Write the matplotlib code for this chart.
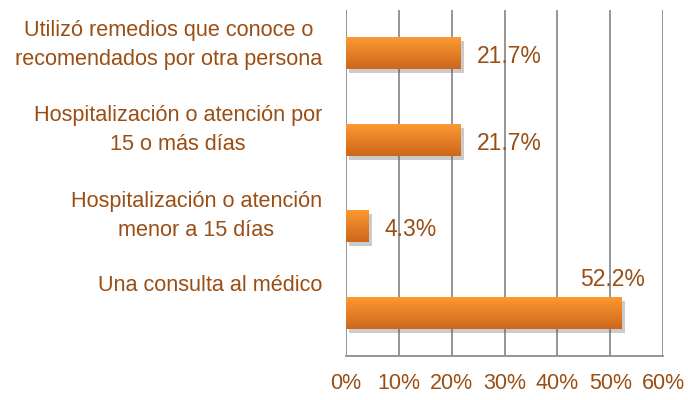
import matplotlib.pyplot as plt
import matplotlib.patheffects as pe
import matplotlib.transforms as mtransforms
import numpy as np

plt.rcParams['font.family'] = ['Liberation Sans', 'DejaVu Sans']

categories = [
    "Utilizó remedios que conoce o\nrecomendados por otra persona",
    "Hospitalización o atención por\n15 o más días",
    "Hospitalización o atención\nmenor a 15 días",
    "Una consulta al médico",
]
values = [21.7, 21.7, 4.3, 52.2]
xticks = [0, 10, 20, 30, 40, 50, 60]

text_color = "#9a4e14"
grid_color = "#8c8c8c"
bar_top = "#ff9a32"
bar_bottom = "#cc671d"

fig = plt.figure(figsize=(6.88, 4.0), dpi=100)
ax = fig.add_axes([0.5029, 0.11, 0.4608, 0.865])

y = np.arange(len(categories))
height = 0.37

bars = ax.barh(y, values, height=height, color=bar_bottom, zorder=3)
for b in bars:
    b.set_path_effects([pe.SimplePatchShadow(offset=(2.5, -3), shadow_rgbFace="#555555", alpha=0.3),
                        pe.Normal()])

# vertical orange gradient clipped to each bar
grad = np.linspace(0, 1, 64).reshape(-1, 1)
cmap = plt.matplotlib.colors.LinearSegmentedColormap.from_list("o", [bar_top, bar_bottom])
for b, yi, v in zip(bars, y, values):
    im = ax.imshow(grad, cmap=cmap, aspect="auto", zorder=4,
                   extent=[0, v, yi + height / 2, yi - height / 2], origin="upper")
    im.set_clip_path(b)

ax.set_xlim(0, 60)
ax.set_ylim(len(categories) - 0.5, -0.5)

ax.set_xticks(xticks)
ax.set_xticklabels([f"{t}%" for t in xticks], fontsize=15.5, color=text_color)
ax.tick_params(axis="x", length=0, pad=12)
ax.set_yticks([])
ax.grid(axis="x", color=grid_color, linewidth=1.3, zorder=0)
for side in ["top", "right", "left"]:
    ax.spines[side].set_visible(False)
ax.spines["bottom"].set_color(grid_color)
ax.spines["bottom"].set_linewidth(1.3)

# category names sit a little above their bars
label_shift = [0.10, 0.11, 0.12, 0.31]
trans = mtransforms.blended_transform_factory(ax.transAxes, ax.transData)
for yi, name, s in zip(y, categories, label_shift):
    ax.text(-0.076, yi - s, name, transform=trans, ha="right", va="center",
            multialignment="center", fontsize=15.6, color=text_color, linespacing=1.5)

# value labels
for yi, v in zip(y, values):
    if v > 40:
        ax.text(v - 1.7, yi - height / 2 - 0.07, f"{v:.1f}%", ha="center", va="bottom",
                fontsize=16.5, color=text_color, zorder=5)
    else:
        ax.text(v + 3.0, yi + 0.04, f"{v:.1f}%", ha="left", va="center",
                fontsize=16.5, color=text_color, zorder=5)

fig.savefig("out.png", dpi=100)
